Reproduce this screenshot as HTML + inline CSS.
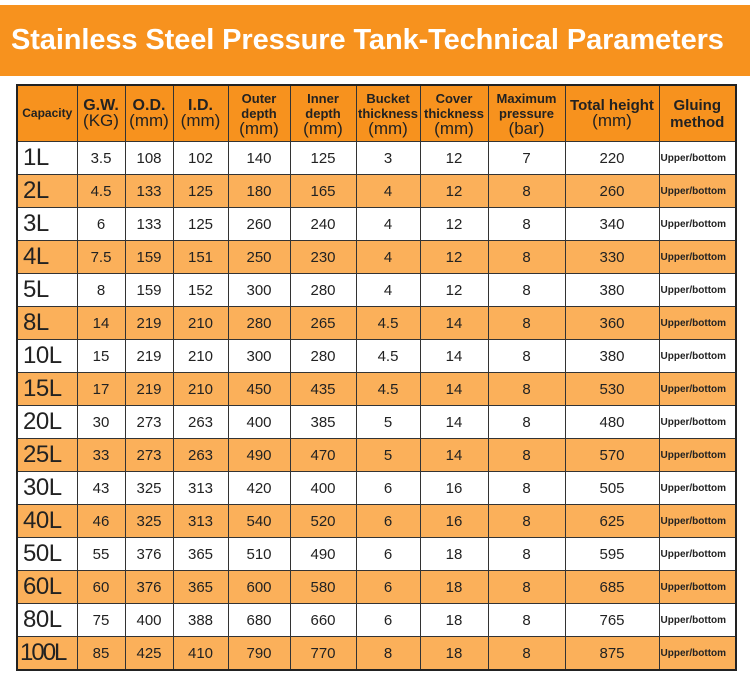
<!DOCTYPE html>
<html><head><style>
body{margin:0;width:750px;height:682px;background:#fff;font-family:"Liberation Sans","DejaVu Sans",sans-serif;overflow:hidden;position:relative}
.t{position:absolute;left:0;top:5px;width:750px;height:71px;background:#f7921e;color:#fff;font-weight:bold;font-size:29px;letter-spacing:-0.1px;line-height:71px;padding-left:11px;box-sizing:border-box;white-space:nowrap}
table{position:absolute;left:16px;top:84px;border-collapse:collapse;border:2px solid #222;table-layout:fixed}
td{border:1px solid #333;text-align:center;padding:0;height:32px;font-size:15px;color:#222;overflow:hidden;white-space:nowrap}
tr.h td{height:55px;background:#f7921e;font-size:13px;font-weight:bold;line-height:15px;color:#222}
tr.h td span{font-weight:normal;font-size:17px}
tr:nth-child(odd):not(.h) td{background:#fbb05a}
td.c{font-size:24px;text-align:left;padding-left:5px;letter-spacing:-0.5px}
td.g{font-size:10px;font-weight:bold;text-align:left;padding-left:1px}
</style></head><body>
<div class="t">Stainless Steel Pressure Tank-Technical Parameters</div>
<table>
<colgroup><col style="width:60px"><col style="width:48px"><col style="width:48px"><col style="width:55px"><col style="width:62px"><col style="width:66px"><col style="width:64px"><col style="width:68px"><col style="width:77px"><col style="width:94px"><col style="width:77px"></colgroup>
<tr class="h"><td style="font-size:12px">Capacity</td><td style="font-size:16px">G.W.<br><span>(KG)</span></td><td style="font-size:16px">O.D.<br><span>(mm)</span></td><td style="font-size:16px">I.D.<br><span>(mm)</span></td><td>Outer<br>depth<br><span>(mm)</span></td><td>Inner<br>depth<br><span>(mm)</span></td><td>Bucket<br>thickness<br><span>(mm)</span></td><td>Cover<br>thickness<br><span>(mm)</span></td><td>Maximum<br>pressure<br><span>(bar)</span></td><td style="font-size:15px">Total height<br><span>(mm)</span></td><td style="font-size:15px;line-height:17px">Gluing<br>method</td></tr>
<tr><td class="c">1L</td><td>3.5</td><td>108</td><td>102</td><td>140</td><td>125</td><td>3</td><td>12</td><td>7</td><td>220</td><td class="g">Upper/bottom</td></tr>
<tr><td class="c">2L</td><td>4.5</td><td>133</td><td>125</td><td>180</td><td>165</td><td>4</td><td>12</td><td>8</td><td>260</td><td class="g">Upper/bottom</td></tr>
<tr><td class="c">3L</td><td>6</td><td>133</td><td>125</td><td>260</td><td>240</td><td>4</td><td>12</td><td>8</td><td>340</td><td class="g">Upper/bottom</td></tr>
<tr><td class="c">4L</td><td>7.5</td><td>159</td><td>151</td><td>250</td><td>230</td><td>4</td><td>12</td><td>8</td><td>330</td><td class="g">Upper/bottom</td></tr>
<tr><td class="c">5L</td><td>8</td><td>159</td><td>152</td><td>300</td><td>280</td><td>4</td><td>12</td><td>8</td><td>380</td><td class="g">Upper/bottom</td></tr>
<tr><td class="c">8L</td><td>14</td><td>219</td><td>210</td><td>280</td><td>265</td><td>4.5</td><td>14</td><td>8</td><td>360</td><td class="g">Upper/bottom</td></tr>
<tr><td class="c">10L</td><td>15</td><td>219</td><td>210</td><td>300</td><td>280</td><td>4.5</td><td>14</td><td>8</td><td>380</td><td class="g">Upper/bottom</td></tr>
<tr><td class="c">15L</td><td>17</td><td>219</td><td>210</td><td>450</td><td>435</td><td>4.5</td><td>14</td><td>8</td><td>530</td><td class="g">Upper/bottom</td></tr>
<tr><td class="c">20L</td><td>30</td><td>273</td><td>263</td><td>400</td><td>385</td><td>5</td><td>14</td><td>8</td><td>480</td><td class="g">Upper/bottom</td></tr>
<tr><td class="c">25L</td><td>33</td><td>273</td><td>263</td><td>490</td><td>470</td><td>5</td><td>14</td><td>8</td><td>570</td><td class="g">Upper/bottom</td></tr>
<tr><td class="c">30L</td><td>43</td><td>325</td><td>313</td><td>420</td><td>400</td><td>6</td><td>16</td><td>8</td><td>505</td><td class="g">Upper/bottom</td></tr>
<tr><td class="c">40L</td><td>46</td><td>325</td><td>313</td><td>540</td><td>520</td><td>6</td><td>16</td><td>8</td><td>625</td><td class="g">Upper/bottom</td></tr>
<tr><td class="c">50L</td><td>55</td><td>376</td><td>365</td><td>510</td><td>490</td><td>6</td><td>18</td><td>8</td><td>595</td><td class="g">Upper/bottom</td></tr>
<tr><td class="c">60L</td><td>60</td><td>376</td><td>365</td><td>600</td><td>580</td><td>6</td><td>18</td><td>8</td><td>685</td><td class="g">Upper/bottom</td></tr>
<tr><td class="c">80L</td><td>75</td><td>400</td><td>388</td><td>680</td><td>660</td><td>6</td><td>18</td><td>8</td><td>765</td><td class="g">Upper/bottom</td></tr>
<tr><td class="c" style="padding-left:2px;letter-spacing:-2px">100L</td><td>85</td><td>425</td><td>410</td><td>790</td><td>770</td><td>8</td><td>18</td><td>8</td><td>875</td><td class="g">Upper/bottom</td></tr>
</table>
</body></html>
